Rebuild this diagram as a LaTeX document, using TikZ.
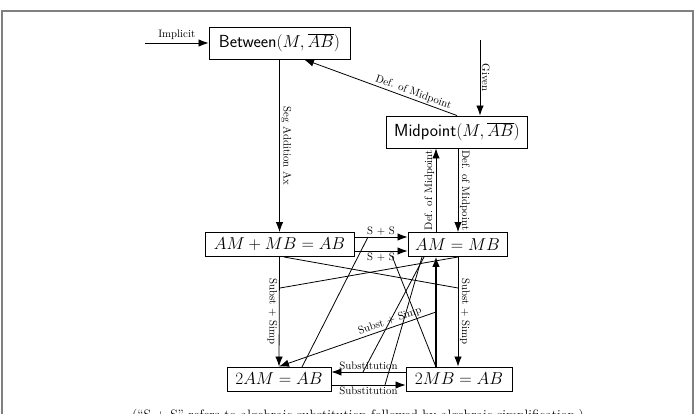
\documentclass[tikz,border=0pt]{standalone}
\usetikzlibrary{arrows.meta}
\begin{document}
\begin{tikzpicture}[x=1pt,y=-1pt,
  box/.style={draw, line width=0.9pt, inner sep=0pt, font=\fontsize{17.5}{21}\selectfont},
  lbl/.style={font=\fontsize{10.8}{13}\selectfont, inner sep=1.5pt},
  conn/.style={line width=0.8pt, -{Latex[length=10pt,width=7.5pt]}},
  plainln/.style={line width=0.8pt}]
\useasboundingbox (0,0) rectangle (696,414);
\draw[line width=1.2pt, gray] (2,11) rectangle (693,440);

\node[box, minimum width=141pt, minimum height=32pt] (betw) at (279.5,43) {\textsf{Between}$(M,\overline{AB})$};
\node[box, minimum width=141pt, minimum height=32pt] (mid) at (457,132) {\textsf{Midpoint}$(M,\overline{AB})$};
\node[box, minimum width=149pt, minimum height=24pt] (sum) at (279.5,244.5) {$AM+MB=AB$};
\node[box, minimum width=99pt, minimum height=24pt] (eq) at (457.5,244.5) {$AM=MB$};
\node[box, minimum width=104pt, minimum height=24pt] (tam) at (279,379) {$2AM=AB$};
\node[box, minimum width=106pt, minimum height=24pt] (tmb) at (459,379) {$2MB=AB$};

\coordinate (impl) at (145,43);
\coordinate (given) at (480,40);
\coordinate (xA) at (436,0);
\coordinate (xB) at (458,0);
\coordinate (xG) at (480,0);
\coordinate (xD) at (304,0);
\coordinate (yS1) at (0,237);
\coordinate (yS2) at (0,251);
\coordinate (yU) at (0,372);
\coordinate (yL) at (0,385);
\coordinate (ss) at (436,312);

\draw[conn] (impl) -- node[lbl, above=2pt]{Implicit} (betw.west);
\draw[conn] (given) -- node[lbl, rotate=-90, anchor=south]{Given} (mid.north -| xG);
\draw[conn] (mid.north) -- node[lbl, sloped, above, pos=0.3]{Def. of Midpoint} (betw.south -| xD);
\draw[conn] (betw.south) -- node[lbl, rotate=-90, anchor=south]{Seg Addition Ax} (sum.north);
\draw[conn] (eq.north -| xA) -- node[lbl, rotate=90, anchor=south]{Def. of Midpoint} (mid.south -| xA);
\draw[conn] (mid.south -| xB) -- node[lbl, rotate=-90, anchor=south]{Def. of Midpoint} (eq.north -| xB);
\draw[conn] (sum.east |- yS1) -- node[lbl, above]{S + S} (eq.west |- yS1);
\draw[conn] (sum.east |- yS2) -- node[lbl, below]{S + S} (eq.west |- yS2);
\draw[conn] (sum.south) -- node[lbl, rotate=-90, anchor=north]{Subst + Simp} (tam.north);
\draw[conn] (eq.south -| xB) -- node[lbl, rotate=-90, anchor=south]{Subst + Simp} (tmb.north -| xB);
\draw[conn] (tmb.west |- yU) -- node[lbl, above]{Substitution} (tam.east |- yU);
\draw[conn] (tam.east |- yL) -- node[lbl, below]{Substitution} (tmb.west |- yL);
\draw[conn, line width=1.1pt] (tmb.north -| xA) -- (eq.south -| xA);
\draw[conn] (ss) -- node[lbl, sloped, above, pos=0.28]{Subst + Simp} (tam.north);

\coordinate (a1) at (284,257); \coordinate (a2) at (458,288);
\coordinate (b1) at (280,288); \coordinate (b2) at (458,257);
\coordinate (c1) at (368,237); \coordinate (c2) at (302,367);
\coordinate (d1) at (392,256); \coordinate (d2) at (436,367);
\coordinate (e1) at (424,257); \coordinate (e2) at (363,372);
\coordinate (f1) at (422,257); \coordinate (f2) at (385,385);
\draw[plainln] (a1) -- (a2);
\draw[plainln] (b1) -- (b2);
\draw[plainln] (c1) -- (c2);
\draw[plainln] (d1) -- (d2);
\draw[plainln] (e1) -- (e2);
\draw[plainln] (f1) -- (f2);

\node[font=\fontsize{13.6}{16}\selectfont, anchor=base] (cap) at (358,419) {(``S + S'' refers to algebraic substitution followed by algebraic simplification.)};
\end{tikzpicture}
\end{document}
